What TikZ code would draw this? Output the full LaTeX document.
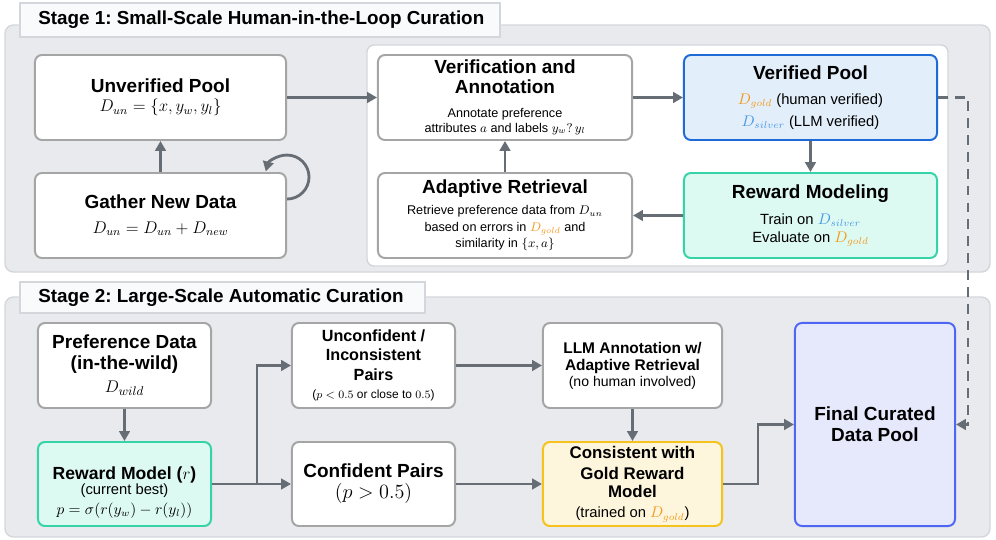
\documentclass[tikz,border=0pt]{standalone}
\usepackage[no-math]{fontspec}
\setmainfont{Liberation Sans}
\usepackage{amsmath}
\usetikzlibrary{arrows.meta, positioning, calc}
\definecolor{PanelFill}{HTML}{E8EAED}
\definecolor{PanelLine}{HTML}{D3D7DC}
\definecolor{TabFill}{HTML}{F9FAFB}
\definecolor{BoxLine}{HTML}{A5A5A5}
\definecolor{ArrGray}{HTML}{676D75}
\definecolor{GoldTxt}{HTML}{F39A1E}
\definecolor{SilverTxt}{HTML}{4A98E6}
\definecolor{BlueLine}{HTML}{1E6AD6}
\definecolor{BlueFill}{HTML}{E2EEFA}
\definecolor{TealLine}{HTML}{35D3A8}
\definecolor{TealFill}{HTML}{DDFAF2}
\definecolor{GoldLine}{HTML}{F7C21B}
\definecolor{GoldFill}{HTML}{FEF6DC}
\definecolor{LavLine}{HTML}{4F66F5}
\definecolor{LavFill}{HTML}{E6E8FC}
\newcommand{\hd}{\fontsize{13.5}{16}\selectfont\bfseries}
\newcommand{\hdm}{\fontsize{12}{14.5}\selectfont\bfseries}
\newcommand{\bodytxt}{\fontsize{10.5}{13}\selectfont}
\newcommand{\smalltxt}{\fontsize{9}{11}\selectfont}
\newcommand{\mth}{\fontsize{11.5}{14}\selectfont}
\newcommand{\boxfont}{\fontsize{10pt}{0pt}\selectfont\lineskiplimit=-100pt\relax}
\newcommand{\gold}{\textcolor{GoldTxt}{$D_{gold}$}}
\newcommand{\silver}{\textcolor{SilverTxt}{$D_{silver}$}}

\begin{document}
\begin{tikzpicture}[x=0.025cm, y=-0.025cm, >=Stealth,
    panel/.style={draw=PanelLine, fill=PanelFill, line width=1pt, rounded corners=6pt},
    tab/.style={draw=PanelLine, fill=TabFill, line width=1pt},
    tabtitle/.style={anchor=west, inner sep=0pt, font=\fontsize{13.4}{16}\selectfont\bfseries\frenchspacing},
    box/.style={draw=BoxLine, fill=white, line width=1.4pt, rounded corners=5pt,
                align=center, inner sep=2pt, minimum height=2.125cm, font=\boxfont},
    bluebox/.style={box, draw=BlueLine, fill=BlueFill},
    tealbox/.style={box, draw=TealLine, fill=TealFill},
    goldbox/.style={box, draw=GoldLine, fill=GoldFill},
    lavbox/.style={box, draw=LavLine, fill=LavFill},
    arr/.style={-{Triangle[length=7pt,width=7.5pt]}, ArrGray, line width=2pt}]
  \useasboundingbox (0,0) rectangle (996,540);

  % Stage 1
  \draw[panel] (5,25) rectangle (990,272);
  \draw[tab] (20,3) rectangle (500,37);
  \node[tabtitle] (tabone) at (38,20) {Stage 1: Small-Scale Human-in-the-Loop Curation};
  \draw[fill=white, draw=PanelLine, line width=1pt, rounded corners=5pt] (367,45) rectangle (948,266);

  \node[box, minimum width=6.275cm] (unv) at (160.5,97.5)
    {\hd Unverified Pool\\[13.5pt]\mth $D_{un}=\{x,y_w,y_l\}$};
  \node[box, minimum width=6.275cm] (gather) at (160.5,215.5)
    {\hd Gather New Data\\[17.5pt]\mth $D_{un}=D_{un}+D_{new}$};
  \node[box, minimum width=6.35cm] (verif) at (505,97.5)
    {\hd Verification and\\[14.2pt]\hd Annotation\\[17pt]\smalltxt Annotate preference\\[10.5pt]\smalltxt attributes $a$ and labels $y_w?\,y_l$};
  \node[box, minimum width=6.35cm] (adapt) at (505,215.5)
    {\hd Adaptive Retrieval\\[14.9pt]\smalltxt Retrieve preference data from $D_{un}$\\[12.1pt]\smalltxt based on errors in \gold{} and\\[11.4pt]\smalltxt similarity in $\{x,a\}$};
  \node[bluebox, minimum width=6.325cm] (vpool) at (810.5,97.5)
    {\hd Verified Pool\\[17.8pt]\bodytxt \gold{} (human verified)\\[15.6pt]\bodytxt \silver{} (LLM verified)};
  \node[tealbox, minimum width=6.325cm] (rmod) at (810.5,215.5)
    {\hd Reward Modeling\\[18.5pt]\bodytxt Train on \silver\\[12.8pt]\bodytxt Evaluate on \gold};

  \coordinate (loopstart) at ([yshift=11.7pt]gather.east);
  \coordinate (dashturn) at (968,97.5);
  \draw[arr] (gather) -- (unv);
  \draw[arr] (loopstart) arc[start angle=90, end angle=-165, radius=22];
  \draw[arr] (unv) -- (verif);
  \draw[arr] (verif) -- (vpool);
  \draw[arr] (vpool) -- (rmod);
  \draw[arr] (rmod) -- (adapt);
  \draw[arr] (adapt) -- (verif);

  % Stage 2
  \draw[panel] (5,297) rectangle (990,537);
  \draw[tab] (20,282) rectangle (425,313);
  \node[tabtitle] (tabtwo) at (38,297.5) {Stage 2: Large-Scale Automatic Curation};

  \node[box, minimum width=4.325cm] (pref) at (124.5,365.5)
    {\hd Preference Data\\[14.9pt]\hd (in-the-wild)\\[16.4pt]\fontsize{13}{15}\selectfont $D_{wild}$};
  \node[tealbox, minimum width=4.325cm, minimum height=2.1cm] (rm) at (124.5,484)
    {\mbox{}\\[21pt]\fontsize{12.5}{15}\selectfont\bfseries Reward Model ($r$)\\[10.5pt]\bodytxt (current best)\\[14.2pt]\bodytxt $p=\sigma(r(y_w)-r(y_l))$};
  \node[box, minimum width=4.075cm] (unconf) at (373.5,365.5)
    {\fontsize{11.5}{14}\selectfont\bfseries Unconfident /\\[13.5pt]\fontsize{11.5}{14}\selectfont\bfseries Inconsistent\\[14.2pt]\fontsize{11.5}{14}\selectfont\bfseries Pairs\\[12.8pt]\fontsize{8.5}{10}\selectfont ($p<0.5$ or close to $0.5$)};
  \node[box, minimum width=4.075cm, minimum height=2.1cm] (conf) at (373.5,484)
    {\hd Confident Pairs\\[14.9pt]\fontsize{13.5}{16}\selectfont $(p>0.5)$};
  \node[box, minimum width=4.475cm] (llm) at (632.5,365.5)
    {\fontsize{11}{13.5}\selectfont\bfseries LLM Annotation w/\\[12.1pt]\fontsize{11}{13.5}\selectfont\bfseries Adaptive Retrieval\\[11.4pt]\fontsize{10}{12}\selectfont (no human involved)};
  \node[goldbox, minimum width=4.475cm, minimum height=2.1cm] (cons) at (632.5,484)
    {\hdm Consistent with\\[14.9pt]\hdm Gold Reward\\[13.5pt]\hdm Model\\[14.2pt]\bodytxt (trained on \gold)};
  \node[lavbox, minimum width=4cm, minimum height=5.075cm] (final) at (875,424.5)
    {\hd Final Curated\\[14.9pt]\hd Data Pool};

  \coordinate (split) at (257,484);
  \coordinate (join) at (758,484);
  \draw[arr] (pref) -- (rm);
  \draw[arr] (rm) -- (conf);
  \draw[arr] (split) |- (unconf);
  \draw[arr] (unconf) -- (llm);
  \draw[arr] (conf) -- (cons);
  \draw[arr] (llm) -- (cons);
  \draw[arr] (cons.east) -- (join) |- (final.west);
  \draw[arr, dash pattern=on 7pt off 5pt] (vpool.east) -- (dashturn) |- (final.east);
\end{tikzpicture}
\end{document}
